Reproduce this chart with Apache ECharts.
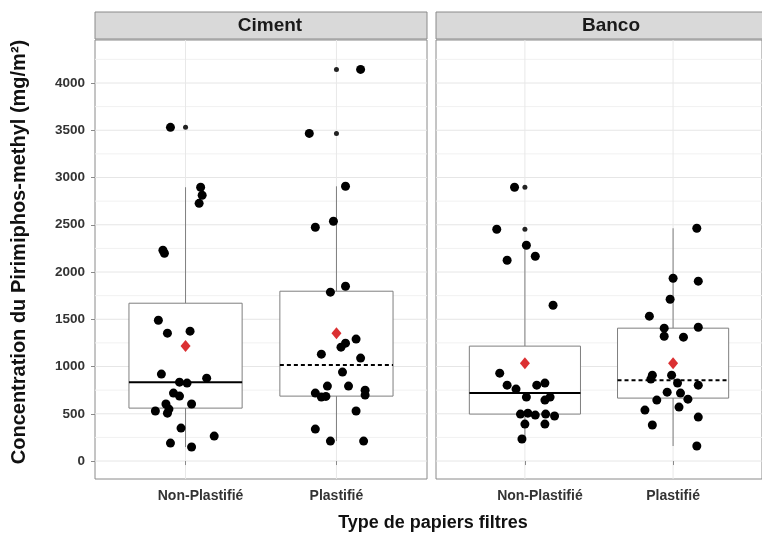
<!DOCTYPE html>
<html><head><meta charset="utf-8">
<script src="https://cdn.jsdelivr.net/npm/echarts@6/dist/echarts.min.js"></script>
<style>html,body{margin:0;padding:0;background:#fff}#c{width:762px;height:536px}</style>
</head><body><div id="c"></div>
<script>
// ---------- data ----------
const panels = ['Ciment', 'Banco'];
const categories = ['Non-Plastifié', 'Plastifié'];
const yTicks = [0, 500, 1000, 1500, 2000, 2500, 3000, 3500, 4000];
const yMinorLines = [250, 750, 1250, 1750, 2250, 2750, 3250, 3750, 4250];
const xGridLines = [1, 2];
const yTitle = 'Concentration du Pirimiphos-methyl (mg/m²)';
const xTitle = 'Type de papiers filtres';

// jittered points: [position (category 1 or 2 + jitter), value]
const cimentNonPlastifie = [
  [0.90,3531],[1.10,2897],[1.11,2812],[1.09,2727],[0.85,2230],[0.86,2199],
  [0.82,1490],[0.88,1353],[1.03,1374],[0.84,920],[0.96,835],[1.01,825],
  [1.14,877],[0.92,719],[0.96,687],[0.87,603],[1.04,603],[0.89,550],
  [0.80,529],[0.88,507],[0.97,349],[0.90,190],[1.04,148],[1.19,264]
];
const cimentPlastifie = [
  [2.16,4144],[1.82,3467],[2.06,2907],[1.98,2537],[1.86,2474],[2.06,1850],
  [1.96,1787],[2.06,1247],[2.03,1205],[2.13,1290],[1.90,1131],[2.16,1089],
  [2.04,941],[1.94,793],[2.08,793],[2.19,750],[2.19,698],[1.86,719],
  [1.90,677],[2.13,529],[1.86,338],[1.96,211],[2.18,211],[1.93,684]
];
const bancoNonPlastifie = [
  [0.93,2897],[0.81,2452],[1.01,2283],[1.07,2167],[0.88,2125],[1.19,1649],
  [0.83,930],[0.88,803],[0.94,761],[1.01,677],[1.08,803],[1.135,825],
  [1.17,677],[1.135,645],[0.97,497],[1.02,507],[1.07,486],[1.14,497],
  [1.20,476],[1.00,391],[1.135,391],[0.98,233]
];
const bancoPlastifie = [
  [2.16,2463],[2.00,1934],[2.17,1903],[1.98,1712],[1.84,1533],[2.17,1416],
  [1.94,1406],[1.94,1321],[2.07,1311],[1.86,909],[1.85,867],[1.99,909],
  [2.03,825],[2.17,803],[1.96,729],[2.05,719],[2.10,655],[1.89,645],
  [2.04,571],[1.81,539],[2.17,465],[1.86,381],[2.16,159]
];

// box statistics per category: [lower whisker, Q1, median, Q3, upper whisker]
const cimentBoxes = [[148, 560, 835, 1670, 2897], [211, 687, 1015, 1797, 2907]];
const bancoBoxes  = [[233, 497, 719, 1216, 2283], [159, 666, 856, 1406, 2463]];
const cimentMeans = [1216, 1353];
const bancoMeans  = [1036, 1036];
const cimentOutliers = [[3531], [3467, 4144]];
const bancoOutliers  = [[2452, 2897], []];

// ---------- chart ----------
const FONT = "'Liberation Sans', Arial, sans-serif";
const chart = echarts.init(document.getElementById('c'), null, {renderer: 'canvas'});

const GRID_TOP = 40, GRID_H = 439, GRID_W = 332;
const gridLefts = [95, 436];

function boxRender(params, api) {
  const x = api.value(0);
  const low = api.value(1), q1 = api.value(2), med = api.value(3), q3 = api.value(4), high = api.value(5);
  const dashed = api.value(6) === 1;
  const hw = 0.375;
  const lt = api.coord([x - hw, q3]);
  const rb = api.coord([x + hw, q1]);
  const ml = api.coord([x - hw, med]), mr = api.coord([x + hw, med]);
  const ph = api.coord([x, high]), p3 = api.coord([x, q3]), p1 = api.coord([x, q1]), pl = api.coord([x, low]);
  const grey = '#7f7f7f';
  return {
    type: 'group',
    children: [
      {type: 'line', shape: {x1: ph[0], y1: ph[1], x2: p3[0], y2: p3[1]}, style: {stroke: grey, lineWidth: 1}},
      {type: 'line', shape: {x1: p1[0], y1: p1[1], x2: pl[0], y2: pl[1]}, style: {stroke: grey, lineWidth: 1}},
      {type: 'rect', shape: {x: lt[0], y: lt[1], width: rb[0] - lt[0], height: rb[1] - lt[1]},
       style: {fill: '#fff', stroke: grey, lineWidth: 1}},
      {type: 'line', shape: {x1: ml[0], y1: ml[1], x2: mr[0], y2: mr[1]},
       style: {stroke: '#000', lineWidth: 2, lineDash: dashed ? [4, 3] : null}}
    ]
  };
}

// grid lines: item = [kind (0 horizontal major, 1 horizontal minor, 2 vertical), value]
function gridLineRender(params, api) {
  const kind = api.value(0), v = api.value(1);
  const cs = params.coordSys;
  if (kind === 2) {
    const p = api.coord([v, 0]);
    return {type: 'line', shape: {x1: p[0], y1: cs.y, x2: p[0], y2: cs.y + cs.height},
      style: {stroke: '#e8e8e8', lineWidth: 1}};
  }
  const p = api.coord([1, v]);
  return {type: 'line', shape: {x1: cs.x, y1: p[1], x2: cs.x + cs.width, y2: p[1]},
    style: {stroke: kind === 0 ? '#e6e6e6' : '#f1f1f1', lineWidth: 1}};
}

const panelData = [
  {points: cimentNonPlastifie.concat(cimentPlastifie), boxes: cimentBoxes, means: cimentMeans, outliers: cimentOutliers},
  {points: bancoNonPlastifie.concat(bancoPlastifie), boxes: bancoBoxes, means: bancoMeans, outliers: bancoOutliers}
];

const gridLineData = [];
yMinorLines.forEach(v => gridLineData.push([1, v]));
yTicks.forEach(v => gridLineData.push([0, v]));
xGridLines.forEach(v => gridLineData.push([2, v]));

const grids = [], xAxes = [], yAxes = [], series = [], graphics = [];

panelData.forEach((pd, i) => {
  grids.push({left: gridLefts[i], top: GRID_TOP, width: GRID_W, height: GRID_H,
    show: true, backgroundColor: '#fff', borderColor: '#8a8a8a', borderWidth: 1});
  xAxes.push({
    type: 'value', gridIndex: i, min: 0.4, max: 2.6,
    axisLine: {show: false}, splitLine: {show: false},
    axisTick: {show: true, customValues: [1, 2], length: 4, lineStyle: {color: '#8a8a8a'}},
    axisLabel: {
      show: true, customValues: [1, 2], margin: 10,
      formatter: v => (Math.round(v) === 1 ? '{np|' + categories[0] + '}' : '{p|' + categories[1] + '}'),
      rich: {
        np: {fontFamily: FONT, fontWeight: 'bold', fontSize: 14, color: '#333', padding: [0, 0, 0, 30]},
        p: {fontFamily: FONT, fontWeight: 'bold', fontSize: 14, color: '#333'}
      }
    }
  });
  yAxes.push({
    type: 'value', gridIndex: i, min: -190, max: 4455,
    axisLine: {show: false}, splitLine: {show: false},
    axisTick: {show: i === 0, customValues: yTicks, length: 4, lineStyle: {color: '#8a8a8a'}},
    axisLabel: {show: i === 0, customValues: yTicks, margin: 10, formatter: v => String(v),
      fontFamily: FONT, fontWeight: 'bold', fontSize: 13.5, color: '#333'}
  });

  series.push({
    type: 'custom', xAxisIndex: i, yAxisIndex: i, z: 0, silent: true,
    renderItem: gridLineRender, data: gridLineData
  });

  series.push({
    type: 'custom', xAxisIndex: i, yAxisIndex: i, z: 1, silent: true,
    renderItem: boxRender,
    encode: {x: 0, y: [1, 2, 3, 4, 5]},
    data: pd.boxes.map((b, k) => [k + 1, b[0], b[1], b[2], b[3], b[4], k])
  });

  const out = [];
  pd.outliers.forEach((vals, k) => vals.forEach(v => out.push([k + 1, v])));
  series.push({
    type: 'scatter', xAxisIndex: i, yAxisIndex: i, z: 2, silent: true,
    symbol: 'circle', symbolSize: 5, itemStyle: {color: '#222', opacity: 1}, data: out
  });

  series.push({
    type: 'scatter', xAxisIndex: i, yAxisIndex: i, z: 3, silent: true,
    symbol: 'circle', symbolSize: 9, itemStyle: {color: '#000', opacity: 1}, data: pd.points
  });

  series.push({
    type: 'scatter', xAxisIndex: i, yAxisIndex: i, z: 4, silent: true,
    symbol: 'diamond', symbolSize: [10, 12], itemStyle: {color: '#d7191c', opacity: 0.9},
    data: pd.means.map((m, k) => [k + 1, m])
  });

  graphics.push({type: 'rect', shape: {x: gridLefts[i], y: 12, width: GRID_W, height: 27},
    style: {fill: '#d9d9d9', stroke: '#8a8a8a', lineWidth: 1}, z: 10});
  graphics.push({type: 'text', x: gridLefts[i] + GRID_W / 2 + 9, y: 26,
    style: {text: panels[i], font: 'bold 19px ' + FONT, fill: '#1a1a1a', textAlign: 'center', textVerticalAlign: 'middle'}, z: 11});
});

graphics.push({type: 'text', x: 19, y: 252, rotation: Math.PI / 2,
  style: {text: yTitle, font: 'bold 20px ' + FONT, fill: '#111', textAlign: 'center', textVerticalAlign: 'middle'}});
graphics.push({type: 'text', x: 433, y: 523,
  style: {text: xTitle, font: 'bold 18px ' + FONT, fill: '#111', textAlign: 'center', textVerticalAlign: 'middle'}});

chart.setOption({
  animation: false,
  backgroundColor: '#fff',
  grid: grids, xAxis: xAxes, yAxis: yAxes, series: series, graphic: graphics
});
</script>
</body></html>
